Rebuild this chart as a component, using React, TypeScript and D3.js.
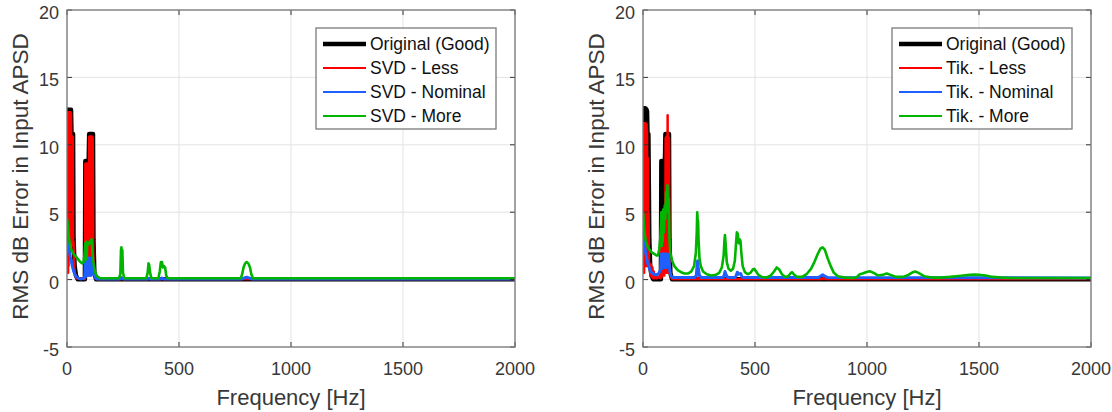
import React from "react";
import * as d3 from "d3";

type Pt = [number, number];

const xTicks = [0, 500, 1000, 1500, 2000];
const yTicks = [-5, 0, 5, 10, 15, 20];

const svdLabels = ["Original (Good)", "SVD - Less", "SVD - Nominal", "SVD - More"];
const tikLabels = ["Original (Good)", "Tik. - Less", "Tik. - Nominal", "Tik. - More"];

const seriesColors = ["#000000", "#ff0000", "#1f5fff", "#00b400"];
const seriesWidths = [4.5, 2.5, 3, 2.6];
const legendWidths = [4.5, 2.2, 2.2, 2.2];

const svdOriginal: Pt[] = [[2,4.8],[4,12.6],[18,12.6],[20,10.8],[27,10.8],[29,3],[34,1],[40,0.3],[48,0.02],[80,0.02],[82,8.8],[97,8.8],[99,10.8],[116,10.8],[118,3],[122,0.5],[130,0.02],[2000,0.02]];

const svdLess: Pt[] = [[2,4.5],[4,12.4],[5,0.5],[6,12.4],[7,1],[8,12.4],[9,1.5],[10,12.4],[11,2],[12,12.4],[13,2.5],[14,12.4],[15,3],[16,12.4],[17,3],[18,12.3],[19,3],[20,10.6],[21,3],[22,10.6],[23,3],[24,10.6],[25,3],[26,10.6],[27,2.5],[29,2.8],[32,1],[36,0.4],[42,0.1],[80,0.05],[82,8.6],[83,0.3],[84,8.6],[85,0.3],[86,8.6],[87,0.3],[88,8.6],[89,0.3],[90,8.6],[91,0.3],[92,8.6],[93,0.3],[94,8.6],[95,0.3],[96,8.6],[97,0.5],[99,10.6],[100,0.5],[101,10.6],[102,0.5],[103,10.6],[104,0.5],[105,10.6],[106,0.5],[107,10.6],[108,0.5],[109,10.6],[110,0.5],[111,10.6],[112,0.5],[113,10.6],[114,0.5],[115,10.5],[117,2],[121,0.4],[130,0.05],[2000,0.05]];

const svdNominal: Pt[] = [[1,2.8],[5,2.6],[10,2.2],[15,1.7],[20,1.3],[25,0.9],[30,0.6],[35,0.4],[40,0.25],[50,0.1],[60,0.05],[75,0.1],[80,0.3],[82,1.5],[83,0.2],[85,1.5],[87,0.3],[89,1.6],[91,0.3],[93,1.5],[95,0.4],[97,1.6],[99,0.3],[101,1.5],[103,0.4],[105,1.6],[107,0.3],[109,1.5],[111,0.5],[113,1.4],[115,0.4],[118,1.0],[122,0.4],[128,0.1],[135,0.05],[235,0.05],[244,0.15],[252,0.05],[360,0.05],[366,0.1],[372,0.05],[418,0.05],[424,0.12],[432,0.05],[780,0.05],[802,0.18],[825,0.05],[2000,0.05]];

const svdMore: Pt[] = [[1,4.5],[4,4.0],[8,3.2],[12,2.7],[17,2.3],[22,2.1],[30,1.9],[40,1.7],[50,1.5],[60,1.3],[68,1.2],[74,1.3],[78,1.8],[82,2.7],[84,1.5],[86,2.8],[88,1.6],[90,2.7],[95,2.6],[100,2.8],[105,2.7],[110,3.0],[113,2.2],[116,1.5],[120,1.0],[125,0.6],[130,0.35],[138,0.2],[148,0.1],[232,0.1],[238,0.4],[241,2.2],[243,2.4],[245,1.6],[247,2.2],[250,0.5],[256,0.1],[354,0.1],[360,0.5],[364,1.2],[367,1.1],[371,0.5],[377,0.1],[408,0.1],[414,0.6],[419,1.3],[424,1.3],[428,0.9],[433,1.0],[438,0.9],[443,0.3],[450,0.1],[776,0.1],[782,0.4],[788,0.9],[795,1.2],[802,1.3],[810,1.2],[817,0.9],[823,0.4],[830,0.1],[2000,0.1]];

const tikOriginal: Pt[] = [[2,5],[4,12.7],[5,8],[6,12.7],[7,8],[8,12.7],[9,8],[10,12.7],[11,8],[12,12.7],[13,8],[14,12.6],[15,8],[16,12.6],[17,8],[18,12.5],[20,10.8],[24,10.8],[26,7],[28,3],[32,1],[38,0.3],[46,0.02],[80,0.02],[82,8.8],[84,5],[86,8.8],[88,5],[90,8.8],[92,5],[94,8.8],[96,5],[98,8.8],[100,10.8],[102,6],[104,10.8],[106,6],[108,10.8],[110,6],[112,10.8],[114,6],[116,10.8],[118,3],[122,0.5],[130,0.02],[2000,0.02]];

const tikLess: Pt[] = [[2,4.5],[4,11.6],[5,0.5],[6,11.6],[7,1],[8,11.6],[9,1],[10,11.6],[11,1],[12,11.6],[13,1],[14,11.5],[15,1],[16,11.5],[17,1],[18,11],[19,1],[20,9],[21,1],[22,9],[23,1],[25,5],[27,1],[30,1.2],[33,0.3],[36,1.1],[39,0.2],[42,0.9],[45,0.1],[48,0.6],[52,0.1],[56,0.4],[62,0.1],[70,0.2],[78,0.1],[82,5],[83,0.2],[85,5],[86,0.3],[88,5],[89,0.3],[91,4.9],[92,0.3],[94,4.9],[95,0.3],[97,4.9],[99,0.5],[101,10.5],[102,0.5],[104,10.6],[105,0.5],[107,10.6],[108,0.5],[110,12.2],[111,0.5],[113,10.6],[114,0.5],[116,10.5],[118,1.5],[122,0.3],[130,0.05],[244,0.05],[246,0.15],[250,0.05],[800,0.05],[805,0.1],[815,0.05],[2000,0.05]];

const tikNominal: Pt[] = [[1,3.3],[5,2.8],[10,2.2],[15,1.7],[20,1.3],[25,1.0],[30,0.8],[35,0.6],[40,0.5],[50,0.4],[60,0.35],[70,0.45],[78,0.7],[82,1.9],[84,0.8],[86,1.9],[88,0.9],[90,1.9],[92,0.9],[94,1.9],[96,0.9],[98,1.9],[100,0.9],[102,1.9],[104,0.9],[106,1.9],[108,1.0],[110,1.9],[112,1.0],[114,1.8],[117,1.2],[120,0.6],[125,0.3],[132,0.15],[230,0.15],[238,0.3],[242,1.2],[244,1.4],[247,0.8],[252,0.3],[260,0.15],[356,0.15],[362,0.3],[366,0.6],[370,0.4],[378,0.15],[410,0.15],[416,0.3],[421,0.55],[428,0.4],[436,0.45],[442,0.2],[450,0.15],[780,0.15],[792,0.25],[802,0.35],[812,0.25],[825,0.15],[2000,0.12]];

const tikMore: Pt[] = [[1,5.0],[4,4.0],[8,3.3],[12,2.9],[17,2.6],[22,2.4],[30,2.2],[40,2.0],[50,1.9],[60,1.8],[67,1.8],[72,2.2],[77,3.0],[80,4.0],[82,5.0],[84,2.5],[86,5.0],[88,2.8],[90,5.2],[93,3.5],[97,5.5],[100,4.5],[103,6.5],[106,5],[109,7],[112,5],[115,6],[118,3],[122,2.0],[130,1.4],[140,1.0],[155,0.7],[170,0.55],[185,0.45],[200,0.45],[215,0.6],[228,1.0],[236,2.0],[240,3.5],[242,5.0],[244,4.5],[246,4.3],[248,3.0],[252,1.6],[258,1.0],[268,0.6],[285,0.4],[305,0.3],[325,0.35],[340,0.5],[352,0.9],[360,1.8],[364,3.0],[366,3.3],[369,2.6],[374,1.3],[382,0.8],[392,0.65],[402,0.8],[410,1.4],[415,2.6],[419,3.5],[423,3.4],[427,2.7],[431,3.0],[435,2.9],[439,2.0],[445,1.0],[455,0.55],[468,0.4],[480,0.5],[490,0.75],[496,0.8],[503,0.65],[515,0.35],[530,0.2],[550,0.15],[570,0.3],[585,0.6],[597,0.9],[608,0.75],[620,0.4],[635,0.2],[648,0.25],[658,0.45],[665,0.55],[673,0.4],[688,0.2],[710,0.2],[730,0.4],[750,0.8],[765,1.3],[780,1.9],[792,2.3],[802,2.4],[812,2.2],[824,1.6],[838,1.0],[852,0.5],[870,0.25],[900,0.15],[940,0.12],[955,0.2],[968,0.4],[980,0.45],[995,0.55],[1012,0.62],[1030,0.5],[1050,0.3],[1070,0.35],[1088,0.45],[1105,0.35],[1130,0.2],[1160,0.2],[1185,0.35],[1205,0.55],[1215,0.6],[1230,0.5],[1255,0.25],[1290,0.15],[1330,0.15],[1370,0.2],[1400,0.25],[1430,0.3],[1460,0.35],[1480,0.37],[1500,0.35],[1530,0.3],[1560,0.2],[1600,0.15],[1650,0.12],[2000,0.12]];

const FONT = "'Liberation Sans', Arial, Helvetica, sans-serif";
const AXIS_COLOR = "#7a7a7a";
const GRID_COLOR = "#e3e3e3";
const TEXT_COLOR = "#383838";

type PanelProps = {
  id: string;
  x0: number;
  x1: number;
  ylabelX: number;
  series: Pt[][];
  labels: string[];
  legendX: number;
};

function Panel({ id, x0, x1, ylabelX, series, labels, legendX }: PanelProps) {
  const top = 10;
  const bottom = 347;
  const x = d3.scaleLinear().domain([0, 2000]).range([x0, x1]);
  const y = d3.scaleLinear().domain([-5, 20]).range([bottom, top]);
  const line = d3
    .line<Pt>()
    .x((d) => x(d[0]))
    .y((d) => y(d[1]))
    .curve(d3.curveLinear);
  const tl = 5;
  const legTop = 28;
  const legW = 180;
  const legH = 101;
  const rowY = [44, 68, 92, 116];
  return (
    <g fontFamily={FONT}>
      <defs>
        <clipPath id={`clip-${id}`}>
          <rect x={x0} y={top} width={x1 - x0} height={bottom - top} />
        </clipPath>
      </defs>
      <rect x={x0} y={top} width={x1 - x0} height={bottom - top} fill="#fff" />
      {xTicks.map((t) => (
        <line key={`gx${t}`} x1={x(t)} x2={x(t)} y1={top} y2={bottom} stroke={GRID_COLOR} strokeWidth={1} />
      ))}
      {yTicks.map((t) => (
        <line key={`gy${t}`} x1={x0} x2={x1} y1={y(t)} y2={y(t)} stroke={GRID_COLOR} strokeWidth={1} />
      ))}
      <g clipPath={`url(#clip-${id})`}>
        {series.map((s, i) => (
          <path
            key={i}
            d={line(s) || ""}
            fill="none"
            stroke={seriesColors[i]}
            strokeWidth={seriesWidths[i]}
            strokeLinejoin="round"
          />
        ))}
      </g>
      {xTicks.map((t) => (
        <g key={`tx${t}`}>
          <line x1={x(t)} x2={x(t)} y1={bottom} y2={bottom - tl} stroke="#333" strokeWidth={1} />
          <line x1={x(t)} x2={x(t)} y1={top} y2={top + tl} stroke="#333" strokeWidth={1} />
          <text x={x(t)} y={375} textAnchor="middle" fontSize={18} fill={TEXT_COLOR}>
            {t}
          </text>
        </g>
      ))}
      {yTicks.map((t) => (
        <g key={`ty${t}`}>
          <line x1={x0} x2={x0 + tl} y1={y(t)} y2={y(t)} stroke="#333" strokeWidth={1} />
          <line x1={x1} x2={x1 - tl} y1={y(t)} y2={y(t)} stroke="#333" strokeWidth={1} />
          <text x={x0 - 8} y={y(t) + 9} textAnchor="end" fontSize={18} fill={TEXT_COLOR}>
            {t}
          </text>
        </g>
      ))}
      <rect x={x0} y={top} width={x1 - x0} height={bottom - top} fill="none" stroke={AXIS_COLOR} strokeWidth={1.3} />
      <text x={(x0 + x1) / 2} y={405} textAnchor="middle" fontSize={22} fill={TEXT_COLOR}>
        Frequency [Hz]
      </text>
      <text
        transform={`translate(${ylabelX},${(top + bottom) / 2 - 2}) rotate(-90)`}
        textAnchor="middle"
        dominantBaseline="central"
        fontSize={22.5}
        fill={TEXT_COLOR}
      >
        RMS dB Error in Input APSD
      </text>
      <g>
        <rect x={legendX} y={legTop} width={legW} height={legH} fill="#fff" stroke={AXIS_COLOR} strokeWidth={1.3} />
        {labels.map((lab, i) => (
          <g key={lab}>
            <line
              x1={legendX + 7}
              x2={legendX + 50}
              y1={rowY[i]}
              y2={rowY[i]}
              stroke={seriesColors[i]}
              strokeWidth={legendWidths[i]}
            />
            <text x={legendX + 54} y={rowY[i] + 6} fontSize={17.5} fill="#111">
              {lab}
            </text>
          </g>
        ))}
      </g>
    </g>
  );
}

export default function App() {
  return (
    <svg
      width={1112}
      height={412}
      viewBox="0 0 1112 412"
      style={{ position: "absolute", left: 0, top: 0, background: "#fff" }}
    >
      <rect x={0} y={0} width={1112} height={412} fill="#fff" />
      <Panel
        id="svd"
        x0={67}
        x1={515}
        ylabelX={20}
        series={[svdOriginal, svdLess, svdNominal, svdMore]}
        labels={svdLabels}
        legendX={316}
      />
      <Panel
        id="tik"
        x0={643}
        x1={1091}
        ylabelX={596}
        series={[tikOriginal, tikLess, tikNominal, tikMore]}
        labels={tikLabels}
        legendX={892}
      />
    </svg>
  );
}
